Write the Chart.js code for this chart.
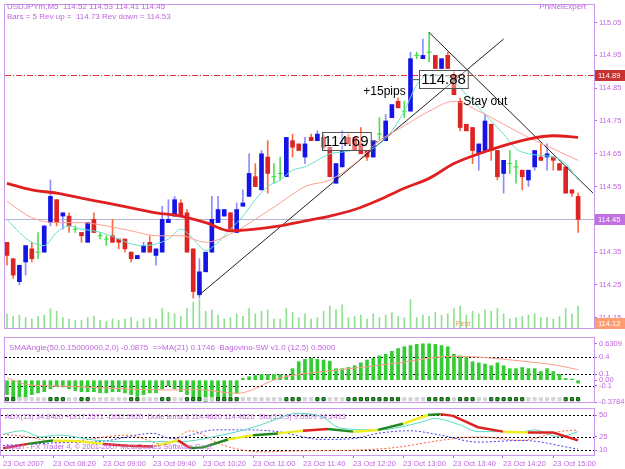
<!DOCTYPE html>
<html>
<head>
<meta charset="utf-8">
<script src="https://cdn.jsdelivr.net/npm/chart.js@4.4.0/dist/chart.umd.min.js"></script>
<style>
  body { margin: 0; background: #fff; width: 625px; height: 469px; overflow: hidden; position: relative; }
  canvas { position: absolute; left: 0; }
</style>
</head>
<body>
<canvas id="priceChart" width="625" height="333" style="top:0"></canvas>
<canvas id="angleChart" width="625" height="74" style="top:333px"></canvas>
<canvas id="adxChart" width="625" height="62" style="top:407px"></canvas>
<script>
// ---- data (USDJPYm M5, 23 Oct 2007) ----
const timeLabels = ['23 Oct 2007', '23 Oct 08:20', '23 Oct 09:00', '23 Oct 09:40', '23 Oct 10:20', '23 Oct 11:00',
  '23 Oct 11:40', '23 Oct 12:20', '23 Oct 13:00', '23 Oct 13:40', '23 Oct 14:20', '23 Oct 15:00'];
const timeLabelBars = [0, 8, 16, 24, 32, 40, 48, 56, 64, 72, 80, 88];

const opens = [114.38,114.33,114.26,114.32,114.36,114.35,114.35,114.44,114.51,114.46,
  114.46,114.42,114.41,114.38,114.45,114.40,114.39,114.40,114.39,114.39,
  114.35,114.33,114.35,114.38,114.34,114.35,114.44,114.46,114.50,114.47,
  114.36,114.22,114.29,114.35,114.44,114.46,114.47,114.41,114.49,114.52,
  114.58,114.54,114.64,114.58,114.59,114.58,114.69,114.68,114.64,114.70,
  114.69,114.70,114.67,114.56,114.61,114.70,114.70,114.68,114.66,114.64,
  114.71,114.69,114.76,114.81,114.78,114.78,114.95,114.94,114.96,114.95,
  114.91,114.95,114.89,114.81,114.74,114.73,114.65,114.66,114.74,114.66,
  114.59,114.62,114.61,114.60,114.57,114.61,114.64,114.64,114.64,114.62,
  114.61,114.54,114.52];
const highs = [114.38,114.33,114.31,114.37,114.38,114.41,114.43,114.57,114.51,114.47,
  114.47,114.43,114.41,114.44,114.47,114.41,114.40,114.45,114.39,114.39,
  114.35,114.34,114.38,114.40,114.36,114.49,114.51,114.52,114.51,114.48,
  114.36,114.33,114.35,114.52,114.52,114.48,114.47,114.50,114.54,114.65,
  114.62,114.66,114.69,114.62,114.64,114.70,114.71,114.68,114.70,114.71,
  114.72,114.71,114.67,114.62,114.72,114.71,114.70,114.73,114.66,114.69,
  114.76,114.77,114.80,114.82,114.81,114.96,114.96,115.00,115.02,114.95,
  114.94,114.96,114.90,114.82,114.74,114.73,114.68,114.77,114.74,114.66,
  114.63,114.66,114.63,114.60,114.60,114.66,114.68,114.68,114.64,114.62,
  114.61,114.54,114.53];
const lows = [114.31,114.27,114.25,114.28,114.32,114.33,114.35,114.43,114.43,114.42,
  114.41,114.41,114.38,114.38,114.41,114.39,114.37,114.38,114.36,114.35,
  114.32,114.33,114.35,114.35,114.31,114.35,114.44,114.46,114.46,114.35,
  114.21,114.21,114.29,114.35,114.44,114.46,114.42,114.41,114.49,114.52,
  114.55,114.54,114.53,114.56,114.57,114.58,114.64,114.66,114.62,114.69,
  114.69,114.66,114.58,114.56,114.61,114.68,114.66,114.65,114.63,114.64,
  114.69,114.69,114.76,114.79,114.76,114.78,114.94,114.94,114.93,114.91,
  114.91,114.91,114.83,114.72,114.72,114.62,114.60,114.66,114.63,114.57,
  114.53,114.59,114.56,114.54,114.55,114.60,114.63,114.60,114.60,114.60,
  114.53,114.52,114.41];
const closes = [114.34,114.28,114.31,114.37,114.33,114.35,114.43,114.52,114.44,114.47,
  114.43,114.42,114.40,114.44,114.41,114.40,114.39,114.38,114.38,114.36,
  114.33,114.34,114.37,114.35,114.36,114.45,114.45,114.51,114.46,114.35,
  114.23,114.29,114.35,114.45,114.48,114.48,114.42,114.48,114.50,114.59,
  114.55,114.65,114.59,114.58,114.59,114.70,114.67,114.66,114.68,114.69,
  114.71,114.67,114.58,114.62,114.66,114.68,114.66,114.65,114.64,114.69,
  114.71,114.75,114.80,114.79,114.78,114.94,114.95,114.95,114.96,114.91,
  114.94,114.91,114.83,114.73,114.72,114.66,114.68,114.75,114.66,114.58,
  114.63,114.62,114.61,114.58,114.60,114.66,114.63,114.65,114.63,114.60,
  114.53,114.53,114.45];

// tick volumes (bottom of price window)
const volumes = [22,18,20,16,14,18,20,30,26,16,14,12,12,16,18,12,10,14,12,14,
  16,10,14,16,14,30,24,22,18,30,40,44,26,28,20,14,16,22,18,30,
  22,26,28,14,14,30,24,16,22,14,16,26,34,28,36,16,18,20,14,22,
  16,20,24,18,16,44,16,20,18,24,20,22,30,34,20,26,22,28,26,30,
  22,14,16,18,20,22,16,16,14,18,30,22,34];

const priceTicks = [115.05, 114.95, 114.85, 114.75, 114.65, 114.55, 114.45, 114.35, 114.25, 114.15];

// moving averages (slow thick red, medium salmon, fast aqua)
const maBars = [0,4,8,12,16,20,24,28,32,36,40,44,48,52,56,60,64,68,72,76,80,84,88,92];
const slowMa = [114.56,114.54,114.53,114.515,114.50,114.485,114.47,114.46,114.44,114.415,114.42,114.43,
  114.445,114.46,114.48,114.51,114.545,114.575,114.62,114.65,114.675,114.695,114.705,114.70];
const midMa = [114.505,114.455,114.44,114.44,114.43,114.415,114.40,114.40,114.38,114.405,114.45,114.50,
  114.55,114.57,114.62,114.69,114.735,114.78,114.81,114.78,114.74,114.70,114.665,114.63];
const fastMaBars = [0,2,4,6,8,10,12,14,16,18,20,22,24,26,28,30,32,34,36,38,40,42,44,46,
  48,50,52,54,56,58,60,62,64,66,68,70,72,74,76,78,80,82,84,86,88,90,92];
const fastMa = [114.45,114.41,114.38,114.37,114.41,114.43,114.42,114.415,114.405,114.39,114.375,114.37,
  114.375,114.39,114.42,114.39,114.355,114.38,114.42,114.46,114.51,114.55,114.57,114.60,
  114.61,114.63,114.65,114.655,114.66,114.66,114.68,114.72,114.78,114.86,114.89,114.89,
  114.87,114.83,114.79,114.75,114.71,114.665,114.65,114.645,114.64,114.62,114.57];

const lastPrice = 114.45;
const revLevel = 114.89;
const firstLevel = 114.12;
const upTrend = [{x: 31, y: 114.22}, {x: 80, y: 115.00}];
const downTrend = [{x: 68, y: 115.02}, {x: 94.4, y: 114.53}];

// SMAAngle histogram, its MA(21) and Bagovino-SW state
const angleValues = [-0.25,-0.30,-0.33,-0.30,-0.25,-0.22,-0.20,-0.15,-0.10,-0.12,
  -0.15,-0.18,-0.20,-0.20,-0.20,-0.22,-0.22,-0.20,-0.20,-0.22,
  -0.25,-0.28,-0.25,-0.22,-0.22,-0.15,-0.10,-0.15,-0.20,-0.25,
  -0.30,-0.35,-0.38,-0.36,-0.33,-0.30,-0.28,-0.22,0.03,0.06,
  0.08,0.10,0.10,0.10,0.10,0.08,0.20,0.32,0.36,0.38,
  0.36,0.35,0.33,0.20,0.20,0.22,0.25,0.30,0.35,0.38,
  0.42,0.45,0.50,0.55,0.58,0.60,0.62,0.63,0.63,0.62,
  0.60,0.58,0.45,0.42,0.40,0.32,0.30,0.28,0.25,0.30,
  0.25,0.20,0.20,0.22,0.20,0.20,0.15,0.20,0.15,0.10,
  0.03,0.02,-0.05];
const angleMaBars = [0,3,9,15,25,31,37,44,51,57,63,72,76,83,89,92];
const angleMa = [0.04,-0.07,-0.105,-0.13,-0.17,-0.165,-0.23,0.04,0.15,0.22,0.30,0.415,0.40,0.33,0.25,0.18];
const swState = [1,1,0,0,0,0,0,1,1,1,0,0,1,1,0,0,0,0,0,0,
  1,1,0,0,0,1,1,0,0,1,1,1,0,0,1,1,1,1,0,0,
  0,0,0,0,0,1,1,1,0,0,1,1,0,0,0,1,1,1,1,1,
  1,1,1,1,0,0,0,0,1,1,1,1,0,1,1,1,0,0,1,1,
  1,1,1,1,0,0,0,0,0,0,1,1,1];
const angleTicks = [0.6309, 0.4, 0.1, 0.0, -0.1, -0.3784];
const angleTickLabels = ['0.6309', '0.4', '0.1', '0.00', '-0.1', '-0.3784'];
const angleLevels = [0.4, 0.1, -0.1];

// ADX window
const adxBars = [0,4,8,12,16,20,24,28,30,32,36,40,44,48,52,56,60,64,68,70,72,76,80,84,88,92];
const adxValues = [12,17,21,20,17,15,14,21,12,13,22,27,29,32,34,31,33,40,50,51,49,36,31,30,30,21];
const adxColors = ['#dd2222','#228822','#eeee22','#eeee22','#dd2222','#dd2222','#eeee22','#dd2222','#228822','#228822',
  '#eeee22','#228822','#eeee22','#dd2222','#228822','#eeee22','#228822','#eeee22','#228822','#dd2222',
  '#dd2222','#dd2222','#eeee22','#dd2222','#dd2222','#dd2222'];
const plusDiBars = [0,3,6,9,15,22,28,35,41,44,47,51,54,60,67,69,73,76,83,85,89,92];
const plusDi = [28,32,25,27,21,19.5,19.5,27,38,46,52,48,35,33,42,46,39,31,31,33,25,31];
const blueDotBars = [0,8,16,24,27,34,39,44,51,56,60,65,70,76,83,92];
const blueDot = [15,18,20,29,23,33,33,31,22,23,29,32,27,19,21,11];
const redDotBars = [0,4,9,20,26,30,35,41,48,57,63,70,76,83,89,92];
const redDot = [28,25,19,27,16,32,16,8,9,10,13,21,25,21,31,33];
const adxTicks = [50, 25, 10];
const adxLevels = [50, 25, 10];

// ---- look ----
const X_MIN = -0.32, X_MAX = 94.56;
const VIOLET = '#bf66dd';
const FRAME = '#cc99ee';
const FONT = "'Liberation Sans', Arial, sans-serif";
Chart.defaults.font.family = FONT;
Chart.defaults.animation = false;
Chart.defaults.events = [];
Chart.defaults.plugins.legend.display = false;
Chart.defaults.plugins.tooltip.enabled = false;

function candleKind(i) {
  if (closes[i] > opens[i]) return 'up';
  if (closes[i] < opens[i]) return 'down';
  return 'doji';
}
const bodyColor = {up: '#1414e6', down: '#dd2424', doji: '#33dd33'};
const wickColor = {up: '#8c8cff', down: '#ff6a3a', doji: '#55dd55'};

function pts(bars, vals) { return bars.map((b, k) => ({x: b, y: vals[k]})); }

// fixed-width right axis, no extra label padding so the plot keeps its pixel scale
function fitRight(s) { s.width = 31; s.paddingTop = 0; s.paddingBottom = 0; }

function rightAxis(extra) {
  return Object.assign({
    position: 'right',
    afterFit: fitRight,
    grid: {drawOnChartArea: false, tickLength: 3, color: VIOLET},
    border: {color: FRAME}
  }, extra);
}

function xAxis() {
  return {type: 'linear', min: X_MIN, max: X_MAX, offset: false, display: false};
}

function frame(chart) {
  const {ctx, chartArea: a} = chart;
  ctx.save();
  ctx.strokeStyle = FRAME;
  ctx.lineWidth = 1;
  ctx.strokeRect(a.left - 0.5, a.top - 0.5, a.right - a.left + 1, a.bottom - a.top + 1);
  ctx.restore();
}

function hLine(chart, value, color, dash) {
  const {ctx, chartArea: a, scales: {y}} = chart;
  const py = Math.round(y.getPixelForValue(value)) + 0.5;
  ctx.save();
  ctx.strokeStyle = color;
  ctx.setLineDash(dash);
  ctx.beginPath(); ctx.moveTo(a.left, py); ctx.lineTo(a.right, py); ctx.stroke();
  ctx.restore();
}

function axisBox(chart, value, text, bg, fg) {
  const {ctx, chartArea: a, scales: {y}} = chart;
  let py = Math.round(y.getPixelForValue(value));
  py = Math.min(py, a.bottom - 5);
  ctx.save();
  ctx.fillStyle = bg;
  ctx.fillRect(a.right + 1, py - 5, 31, 11);
  ctx.fillStyle = fg;
  ctx.font = '7.5px ' + FONT;
  ctx.textBaseline = 'middle';
  ctx.fillText(text, a.right + 4, py + 0.5);
  ctx.restore();
}

function boxedLabel(chart, bar, price, text, tick) {
  const {ctx, scales: {x, y}} = chart;
  const px = x.getPixelForValue(bar), py = y.getPixelForValue(price);
  ctx.save();
  ctx.font = '15px ' + FONT;
  const w = ctx.measureText(text).width + 4;
  ctx.fillStyle = 'rgba(255,255,255,0.35)';
  ctx.fillRect(px, py, w, 18);
  ctx.strokeStyle = '#555';
  ctx.strokeRect(Math.round(px) + 0.5, Math.round(py) + 0.5, w, 18);
  ctx.fillStyle = '#000';
  ctx.textBaseline = 'middle';
  ctx.fillText(text, px + 2, py + 10);
  ctx.beginPath();
  if (tick === 'right') { ctx.moveTo(px + w, py + 9.5); ctx.lineTo(px + w + 7, py + 9.5); }
  else { ctx.moveTo(px - 8, py + 9.5); ctx.lineTo(px, py + 9.5); }
  ctx.stroke();
  ctx.restore();
}

const priceDecor = {
  id: 'priceDecor',
  beforeDatasetsDraw(chart) {
    hLine(chart, lastPrice, '#b4b4d4', []);
    hLine(chart, revLevel, '#e03030', [6, 2, 1, 2]);
    hLine(chart, firstLevel, '#ff9966', [2, 2]);
  },
  afterDraw(chart) {
    const {ctx, chartArea: a, scales: {x, y}} = chart;
    frame(chart);
    axisBox(chart, revLevel, '114.89', '#c83232', '#fff');
    axisBox(chart, lastPrice, '114.45', '#c070e0', '#fff');
    axisBox(chart, firstLevel, '114.12', '#ff9c70', '#fff');
    boxedLabel(chart, 50.7, 114.716, '114.69', 'right');
    boxedLabel(chart, 66.4, 114.905, '114.88', 'left');
    ctx.save();
    ctx.fillStyle = '#000';
    ctx.font = '12px ' + FONT;
    ctx.textBaseline = 'middle';
    ctx.fillText('+15pips', x.getPixelForValue(57.4), y.getPixelForValue(114.84));
    ctx.fillText('Stay out', x.getPixelForValue(73.5), y.getPixelForValue(114.81));
    ctx.fillStyle = '#ff8c5a';
    ctx.font = '7.5px ' + FONT;
    ctx.fillText('First', x.getPixelForValue(72.3), y.getPixelForValue(firstLevel) - 4);
    ctx.fillStyle = VIOLET;
    ctx.font = '8px ' + FONT;
    ctx.fillText('USDJPYm,M5  114.52 114.53 114.41 114.45', a.left + 2, 7);
    ctx.fillText('Bars = 5 Rev up =  114.73 Rev down = 114.53', a.left + 2, 17);
    ctx.textAlign = 'right';
    ctx.fillText('PhiNelExpert', a.right - 8, 7);
    ctx.restore();
  }
};

new Chart(document.getElementById('priceChart'), {
  type: 'bar',
  data: {
    datasets: [
      {type: 'line', data: pts(maBars, slowMa), borderColor: '#e02020', borderWidth: 2.8,
        pointRadius: 0, cubicInterpolationMode: 'monotone', order: 0},
      {type: 'line', data: pts(maBars, midMa), borderColor: '#ffa090', borderWidth: 1,
        pointRadius: 0, cubicInterpolationMode: 'monotone', order: 0},
      {type: 'line', data: pts(fastMaBars, fastMa), borderColor: '#66e0cc', borderWidth: 1,
        pointRadius: 0, cubicInterpolationMode: 'monotone', order: 0},
      {type: 'line', data: upTrend, borderColor: '#202020', borderWidth: 1, pointRadius: 0, order: 0},
      {type: 'line', data: downTrend, borderColor: '#202020', borderWidth: 1, pointRadius: 0, order: 0},
      {type: 'line', showLine: false, order: 1,
        data: opens.map((o, i) => ({x: i, y: candleKind(i) === 'doji' ? o : null})),
        pointStyle: 'line', pointRadius: 2.5, pointBorderWidth: 1, pointBorderColor: bodyColor.doji},
      {data: opens.map((o, i) => ({x: i, y: candleKind(i) === 'doji' ? null : [o, closes[i]]})),
        backgroundColor: c => bodyColor[candleKind(c.dataIndex)], barThickness: 4, grouped: false, order: 2},
      {data: lows.map((l, i) => ({x: i, y: [l, highs[i]]})),
        backgroundColor: c => wickColor[candleKind(c.dataIndex)], barThickness: 1, grouped: false, order: 3},
      {yAxisID: 'yv', data: volumes.map((v, i) => ({x: i, y: v})),
        backgroundColor: '#8fe08f', barThickness: 1, grouped: false, order: 4}
    ]
  },
  options: {
    responsive: false,
    devicePixelRatio: 1,
    layout: {padding: {top: 1, bottom: 1, left: 1, right: 0}},
    scales: {
      x: xAxis(),
      y: rightAxis({
        min: 114.1187, max: 115.1037,
        afterBuildTicks: s => { s.ticks = priceTicks.map(v => ({value: v})); },
        ticks: {color: VIOLET, font: {size: 7.5}, padding: 2, autoSkip: false, callback: v => v.toFixed(2)}
      }),
      yv: {display: false, min: 0, max: 500}
    }
  },
  plugins: [priceDecor]
});

// ---- SMAAngle window ----
function levelLines(levels) {
  return {
    id: 'levels',
    beforeDatasetsDraw(chart) {
      levels.forEach(l => hLine(chart, l, '#000', [2, 2]));
    },
    afterDraw: frame
  };
}

const angleText = {
  id: 'angleText',
  afterDraw(chart) {
    const {ctx, chartArea: a} = chart;
    ctx.save();
    ctx.fillStyle = VIOLET;
    ctx.font = '8px ' + FONT;
    ctx.textBaseline = 'middle';
    ctx.fillText('SMAAngle(50,0.15000000,2,0) -0.0875  =>MA(21) 0.1746  Bagovino-SW v1.0 (12,5) 0.5000', a.left + 4, a.top + 10);
    ctx.restore();
  }
};

new Chart(document.getElementById('angleChart'), {
  type: 'bar',
  data: {
    datasets: [
      {type: 'line', data: pts(angleMaBars, angleMa), borderColor: '#ff9a88', borderWidth: 1,
        pointRadius: 0, cubicInterpolationMode: 'monotone', order: 0},
      {type: 'line', showLine: false, order: 1,
        data: swState.map((s, i) => ({x: i, y: -0.33})),
        pointStyle: 'rect', pointRadius: 2.2, pointBorderWidth: 1,
        pointBackgroundColor: c => swState[c.dataIndex] ? '#22aa22' : '#d4d4d4',
        pointBorderColor: c => swState[c.dataIndex] ? '#0c4a0c' : '#d4d4d4'},
      {data: angleValues.map((v, i) => ({x: i, y: v})), backgroundColor: '#33cc33',
        barThickness: 3, grouped: false, order: 2}
    ]
  },
  options: {
    responsive: false,
    devicePixelRatio: 1,
    layout: {padding: {top: 3, bottom: 1, left: 1, right: 0}},
    scales: {
      x: xAxis(),
      y: rightAxis({
        min: -0.3784, max: 0.731,
        afterBuildTicks: s => { s.ticks = angleTicks.map(v => ({value: v})); },
        ticks: {color: VIOLET, font: {size: 7.5}, padding: 2, autoSkip: false,
          callback: (v, i) => angleTickLabels[i]}
      })
    }
  },
  plugins: [levelLines(angleLevels), angleText]
});

// ---- ADX window with time axis ----
const adxText = {
  id: 'adxText',
  afterDraw(chart) {
    const {ctx, chartArea: a} = chart;
    ctx.save();
    ctx.fillStyle = VIOLET;
    ctx.font = '7.5px ' + FONT;
    ctx.textBaseline = 'middle';
    ctx.fillText('ADX(13) 34.8400 +DI17.2571 -DI32.5920  Dolle lema 3 114.4620 114.4620  Sto(5,3,3) 9.0909 14.2413', a.left + 4, a.top + 8);
    ctx.fillText('Alpari - FX Trader 4, \u00a9 2001-2007 MetaQuotes Software Corp.', a.left + 4, a.bottom - 8);
    ctx.restore();
  }
};

new Chart(document.getElementById('adxChart'), {
  type: 'line',
  data: {
    datasets: [
      {data: pts(adxBars, adxValues), borderWidth: 2.5, pointRadius: 0, order: 0,
        segment: {borderColor: c => adxColors[c.p0DataIndex]}},
      {data: pts(plusDiBars, plusDi), borderColor: '#55dcc0', borderWidth: 1, pointRadius: 0,
        cubicInterpolationMode: 'monotone', order: 1},
      {data: pts(blueDotBars, blueDot), borderColor: '#4444ee', borderWidth: 1, borderDash: [2, 2],
        pointRadius: 0, cubicInterpolationMode: 'monotone', order: 2},
      {data: pts(redDotBars, redDot), borderColor: '#ff5a3a', borderWidth: 1, borderDash: [2, 2],
        pointRadius: 0, cubicInterpolationMode: 'monotone', order: 2}
    ]
  },
  options: {
    responsive: false,
    devicePixelRatio: 1,
    layout: {padding: {top: 2, bottom: 0, left: 1, right: 0}},
    scales: {
      x: {
        type: 'linear', min: X_MIN, max: X_MAX, offset: false, position: 'bottom',
        afterFit: s => { s.height = 14; },
        afterBuildTicks: s => { s.ticks = timeLabelBars.map(v => ({value: v})); },
        grid: {drawOnChartArea: false, tickLength: 3, color: VIOLET},
        border: {color: FRAME},
        ticks: {color: VIOLET, font: {size: 7.5}, padding: 1, autoSkip: false, maxRotation: 0,
          align: 'start', callback: (v, i) => timeLabels[i]}
      },
      y: rightAxis({
        min: 4.29, max: 56.86,
        afterBuildTicks: s => { s.ticks = adxTicks.map(v => ({value: v})); },
        ticks: {color: VIOLET, font: {size: 7.5}, padding: 2, autoSkip: false, callback: v => String(v)}
      })
    }
  },
  plugins: [levelLines(adxLevels), adxText]
});
</script>
</body>
</html>
